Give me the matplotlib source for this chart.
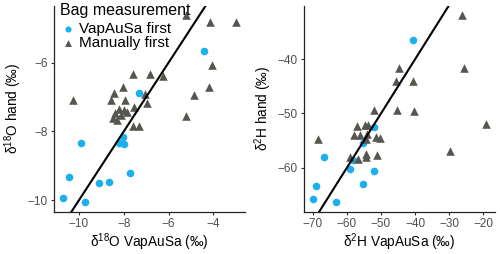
import numpy as np
import matplotlib.pyplot as plt

plt.rcParams['font.family'] = ['Liberation Sans', 'DejaVu Sans']
plt.rcParams['mathtext.fontset'] = 'custom'
plt.rcParams['mathtext.rm'] = 'Liberation Sans'

# d18O panel
o18_vap_blue = [-4.42, -7.33, -8.05, -8.23, -7.98, -9.91, -7.70, -10.43, -8.68, -9.11, -10.71, -9.75]
o18_hand_blue = [-5.65, -6.88, -8.15, -8.34, -8.36, -8.34, -9.21, -9.32, -9.46, -9.49, -9.93, -10.06]
o18_vap_tri = [-5.22, -4.13, -2.99, -4.06, -7.59, -6.85, -6.23, -10.25, -8.04, -8.43, -8.57, -7.94, -7.04, -6.97,
               -7.56, -8.23, -8.01, -7.86, -8.38, -8.13, -8.48, -8.28, -7.59, -7.30, -5.20, -4.85, -4.19]
o18_hand_tri = [-4.61, -4.81, -4.81, -6.08, -6.32, -6.32, -6.40, -7.08, -6.72, -6.88, -7.08, -7.08, -6.90, -7.18,
                -7.30, -7.36, -7.38, -7.42, -7.47, -7.53, -7.62, -7.66, -7.83, -7.83, -7.55, -6.94, -6.72]

# d2H panel
h2_vap_blue = [-40.7, -52.0, -55.2, -58.1, -66.7, -59.1, -52.0, -55.3, -69.1, -70.0, -63.3]
h2_hand_blue = [-36.4, -52.5, -55.4, -58.5, -58.1, -60.2, -60.6, -63.1, -63.3, -65.7, -66.4]
h2_vap_tri = [-26.3, -25.7, -44.6, -45.6, -40.7, -45.4, -40.3, -52.0, -19.2, -29.9, -68.4, -57.0, -54.7, -53.7,
              -57.8, -56.1, -54.2, -51.5, -50.4, -54.5, -59.1, -56.6, -54.5, -54.5, -51.2]
h2_hand_tri = [-31.8, -41.7, -41.7, -44.0, -44.0, -49.4, -49.6, -49.4, -51.9, -57.0, -54.8, -52.3, -52.1, -52.1,
               -54.0, -53.9, -53.7, -54.3, -54.5, -54.8, -58.0, -58.4, -57.4, -58.1, -57.7]

blue = '#1CB0EE'
grey = '#56564F'

fig = plt.figure(figsize=(5, 2.54), dpi=100)
ax1 = fig.add_axes([0.1086, 0.167, 0.3808, 0.811])
ax2 = fig.add_axes([0.6086, 0.167, 0.3804, 0.811])


def style(ax):
    for s in ['top', 'right']:
        ax.spines[s].set_visible(False)
    for s in ['left', 'bottom']:
        ax.spines[s].set_linewidth(0.9)
        ax.spines[s].set_color('#222222')
    ax.tick_params(length=2.5, width=0.8, color='#333333', labelsize=8.5, labelcolor='#4D4D4D', pad=2)


# left
ax1.scatter(o18_vap_blue, o18_hand_blue, s=30, color=blue, marker='o', linewidths=0, label='VapAuSa first', zorder=3)
ax1.scatter(o18_vap_tri, o18_hand_tri, s=38, color=grey, marker='^', linewidths=0, label='Manually first', zorder=3)
ax1.axline((0, 0), slope=1, color='black', lw=1.5, zorder=4)
ax1.set_xlim(-11.1, -2.6)
ax1.set_ylim(-10.33, -4.34)
ax1.set_xticks([-10, -8, -6, -4])
ax1.set_yticks([-10, -8, -6])
ax1.set_xlabel('δ$^{18}$O VapAuSa (‰)', fontsize=9.8, labelpad=1)
ax1.set_ylabel('δ$^{18}$O hand (‰)', fontsize=9.8, labelpad=3)
style(ax1)

# right
ax2.scatter(h2_vap_blue, h2_hand_blue, s=30, color=blue, marker='o', linewidths=0, zorder=3)
ax2.scatter(h2_vap_tri, h2_hand_tri, s=38, color=grey, marker='^', linewidths=0, zorder=3)
ax2.axline((0, 0), slope=1, color='black', lw=1.5, zorder=4)
ax2.set_xlim(-72.5, -16.7)
ax2.set_ylim(-68.1, -30.1)
ax2.set_xticks([-70, -60, -50, -40, -30, -20])
ax2.set_yticks([-60, -50, -40])
ax2.set_xlabel('δ$^{2}$H VapAuSa (‰)', fontsize=9.8, labelpad=1)
ax2.set_ylabel('δ$^{2}$H hand (‰)', fontsize=9.8, labelpad=3)
style(ax2)

leg = fig.legend(handles=ax1.collections[:2], loc='upper left', bbox_to_anchor=(60 / 500, 1 - 3 / 254),
                 frameon=False, fontsize=11, title='Bag measurement', title_fontsize=11.5,
                 handletextpad=0.25, borderaxespad=0, labelspacing=0.0, handlelength=1.0, borderpad=0,
                 markerscale=0.8)
leg._legend_box.align = 'left'
leg._legend_box.sep = 3

fig.savefig('out.png', dpi=100)
